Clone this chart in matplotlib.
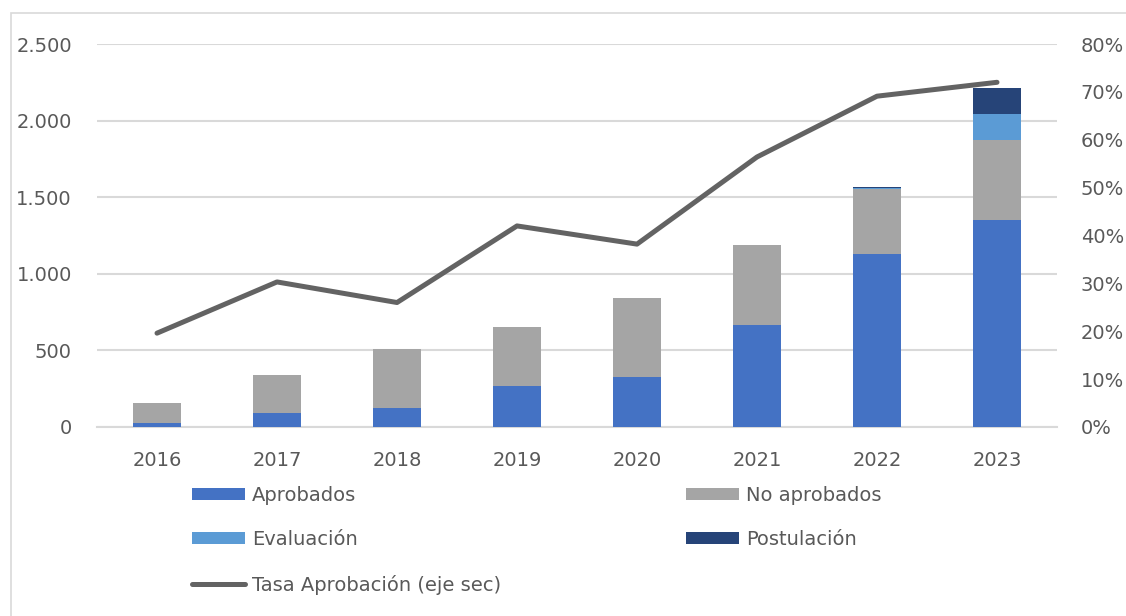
import numpy as np
import matplotlib.pyplot as plt
from matplotlib.patches import Rectangle
from matplotlib.ticker import FuncFormatter

plt.rcParams['font.family'] = ['DejaVu Sans']

# datos
anios = ['2016', '2017', '2018', '2019', '2020', '2021', '2022', '2023']
aprobados = [25, 93, 126, 268, 324, 668, 1127, 1354]
no_aprobados = [130, 247, 385, 385, 518, 518, 429, 517]
evaluacion = [0, 0, 0, 0, 0, 0, 6, 170]
postulacion = [0, 0, 0, 0, 0, 0, 7, 174]
tasa = [0.196, 0.303, 0.260, 0.420, 0.382, 0.564, 0.691, 0.720]

c_apr = '#4472C4'
c_noapr = '#A5A5A5'
c_eval = '#5B9BD5'
c_post = '#264478'
c_linea = '#636363'
c_texto = '#595959'
c_grid = '#D9D9D9'

fig = plt.figure(figsize=(11.26, 6.16), dpi=100)
ax = fig.add_axes([97 / 1126, 1 - 427 / 616, 960 / 1126, 383 / 616])
ax2 = ax.twinx()

x = np.arange(len(anios))
ancho = 0.4
b0 = np.zeros(len(anios))
h1 = ax.bar(x, aprobados, ancho, bottom=b0, color=c_apr, label='Aprobados', zorder=3)
b0 = b0 + aprobados
h2 = ax.bar(x, no_aprobados, ancho, bottom=b0, color=c_noapr, label='No aprobados', zorder=3)
b0 = b0 + no_aprobados
h3 = ax.bar(x, evaluacion, ancho, bottom=b0, color=c_eval, label='Evaluación', zorder=3)
b0 = b0 + evaluacion
h4 = ax.bar(x, postulacion, ancho, bottom=b0, color=c_post, label='Postulación', zorder=3)

h5, = ax2.plot(x, tasa, color=c_linea, lw=3.6, solid_capstyle='round',
               label='Tasa Aprobación (eje sec)', zorder=4)

ax.set_xlim(-0.5, len(anios) - 0.5)
ax.set_ylim(0, 2500)
ax.set_yticks(np.arange(0, 2501, 500))
ax.yaxis.set_major_formatter(FuncFormatter(lambda v, p: f'{int(v):,}'.replace(',', '.')))
ax2.set_ylim(0, 0.8)
ax2.set_yticks(np.arange(0, 0.81, 0.1))
ax2.yaxis.set_major_formatter(FuncFormatter(lambda v, p: f'{v * 100:.0f}%'))

ax.set_xticks(x)
ax.set_xticklabels(anios)
ax.grid(axis='y', color=c_grid, lw=1.5, zorder=0)
ax.set_axisbelow(True)
for a in (ax, ax2):
    for s in a.spines.values():
        s.set_visible(False)
    a.tick_params(length=0, labelsize=14, labelcolor=c_texto)
ax.spines['bottom'].set_visible(True)
ax.spines['bottom'].set_color(c_grid)
ax.spines['bottom'].set_linewidth(1.5)
ax.tick_params(axis='y', pad=18)
ax.tick_params(axis='x', pad=17)
ax2.tick_params(axis='y', pad=17)
ax2.set_zorder(ax.get_zorder() + 1)
ax2.patch.set_visible(False)

leg = fig.legend([h1, h3, h5, h2, h4],
                 ['Aprobados', 'Evaluación', 'Tasa Aprobación (eje sec)', 'No aprobados', 'Postulación'],
                 ncol=2, loc='upper left', bbox_to_anchor=(192 / 1126, 1 - 486 / 616),
                 frameon=False, fontsize=14, handlelength=2.73, handleheight=0.57,
                 handletextpad=0.36, columnspacing=9.5, labelspacing=1.3,
                 borderpad=0, borderaxespad=0, labelcolor=c_texto)

fig.patches.append(Rectangle((11 / 1126, -0.1), 1.2, 1 - 13 / 616 + 0.1,
                             transform=fig.transFigure, fill=False,
                             edgecolor=c_grid, lw=1.2))

fig.savefig('out.png', dpi=100)
